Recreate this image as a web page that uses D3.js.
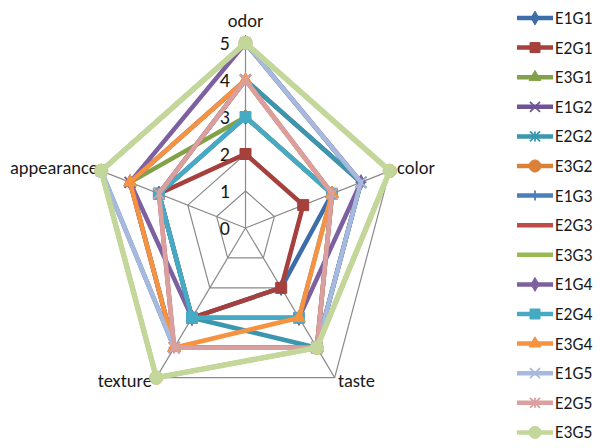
<!DOCTYPE html>
<html><head><meta charset="utf-8">
<script src="https://cdn.jsdelivr.net/npm/d3@7"></script>
<style>
html,body{margin:0;padding:0;background:#fff;}
svg text{font-family:Carlito,"Liberation Sans Narrow","DejaVu Sans Condensed",sans-serif;fill:#1a1a1a;}
</style></head>
<body><svg id="chart" width="601" height="448"></svg>
<script>
const axes = ["odor", "color", "taste", "texture", "appearance"];
const tickLabels = ["0", "1", "2", "3", "4", "5"];
const seriesNames = ["E1G1","E2G1","E3G1","E1G2","E2G2","E3G2","E1G3","E2G3","E3G3","E1G4","E2G4","E3G4","E1G5","E2G5","E3G5"];
const E1G1 = [3, 3, 2, 3, 3];
const E2G1 = [2, 2, 2, 3, 3];
const E3G1 = [3, 3, 4, 4, 4];
const E1G2 = [4, 4, 4, 4, 4];
const E2G2 = [4, 4, 4, 3, 3];
const E3G2 = [5, 5, 4, 5, 5];
const E1G3 = [5, 4, 4, 4, 5];
const E2G3 = [4, 3, 4, 4, 3];
const E3G3 = [5, 5, 4, 5, 5];
const E1G4 = [5, 4, 3, 3, 4];
const E2G4 = [3, 3, 3, 3, 3];
const E3G4 = [4, 3, 3, 4, 4];
const E1G5 = [5, 4, 4, 4, 5];
const E2G5 = [4, 3, 4, 4, 3];
const E3G5 = [5, 5, 4, 5, 5];
const seriesValues = [E1G1,E2G1,E3G1,E1G2,E2G2,E3G2,E1G3,E2G3,E3G3,E1G4,E2G4,E3G4,E1G5,E2G5,E3G5];
const colors = ["#3E6EAA","#A5403D","#82A24A","#6E5494","#3A97AE","#DA8137","#4A7EBB","#BE4B48","#98B954","#7D60A0","#46AAC5","#F69240","#A7B9DC","#D9A09F","#C4D79B"];
const markers = ["diamond","square","triangle","x","star","circle","plus","none","none","diamond","square","triangle","x","star","circle"];

const svg = d3.select("#chart");
const cx = 245.5, cy = 228, sx = 0.82;
const r = d3.scaleLinear().domain([0, 5]).range([0, 185]);
const ang = i => (-90 + 72 * i) * Math.PI / 180;
const pt = (i, v) => [cx + r(v) * Math.cos(ang(i)) * sx, cy + r(v) * Math.sin(ang(i))];

// grid
const grid = svg.append("g").attr("stroke", "#8a8a8a").attr("stroke-width", 1.2).attr("fill", "none");
d3.range(1, 6).forEach(lv => {
  grid.append("path").attr("d", d3.line()(axes.map((a, i) => pt(i, lv))) + "Z");
});
axes.forEach((a, i) => {
  const p = pt(i, 5);
  grid.append("line").attr("x1", cx).attr("y1", cy).attr("x2", p[0]).attr("y2", p[1]);
});

// tick labels
tickLabels.forEach((t, k) => {
  svg.append("text").attr("x", 230).attr("y", cy - r(k) + 7).attr("text-anchor", "end")
    .attr("font-size", 20).text(t);
});

// axis labels
const labelPos = [
  {x: 245.5, y: 27, anchor: "middle"},
  {x: 397, y: 174, anchor: "start"},
  {x: 338, y: 387, anchor: "start"},
  {x: 152, y: 387, anchor: "end"},
  {x: 98, y: 174, anchor: "end"}
];
axes.forEach((a, i) => {
  svg.append("text").attr("x", labelPos[i].x).attr("y", labelPos[i].y)
    .attr("text-anchor", labelPos[i].anchor).attr("font-size", 18.5).text(a);
});

function drawMarker(g, type, x, y, color, s) {
  const sym = {diamond: d3.symbolDiamond, square: d3.symbolSquare, triangle: d3.symbolTriangle, circle: d3.symbolCircle};
  if (sym[type]) {
    const size = {diamond: s * s * 0.55, square: s * s, triangle: s * s * 0.6, circle: s * s * 0.95}[type];
    g.append("path").attr("d", d3.symbol(sym[type], size)()).attr("transform", `translate(${x},${y})`)
      .attr("fill", color).attr("stroke", color).attr("stroke-width", 1);
  } else if (type !== "none") {
    const h = s / 2;
    const segs = [];
    if (type === "x" || type === "star") { segs.push([-h, -h, h, h], [-h, h, h, -h]); }
    if (type === "star") { segs.push([0, -h, 0, h]); }
    if (type === "plus") { segs.push([-h, 0, h, 0], [0, -h, 0, h]); }
    segs.forEach(sg => g.append("line").attr("x1", x + sg[0]).attr("y1", y + sg[1]).attr("x2", x + sg[2]).attr("y2", y + sg[3])
      .attr("stroke", color).attr("stroke-width", 1.8));
  }
}

// series
seriesValues.forEach((vals, si) => {
  const g = svg.append("g");
  const w = si === 14 ? 5.5 : 4.5;
  g.append("path").attr("d", d3.line()(vals.map((v, i) => pt(i, v))) + "Z")
    .attr("fill", "none").attr("stroke", colors[si]).attr("stroke-width", w).attr("stroke-linejoin", "miter");
  vals.forEach((v, i) => {
    const p = pt(i, v);
    drawMarker(g, markers[si], p[0], p[1], colors[si], markers[si] === "circle" ? 12 : 11);
  });
});

// legend
const leg = svg.append("g");
seriesNames.forEach((n, si) => {
  const y = 18 + si * 29.6;
  leg.append("line").attr("x1", 517).attr("x2", 553).attr("y1", y).attr("y2", y)
    .attr("stroke", colors[si]).attr("stroke-width", 4.5);
  drawMarker(leg, markers[si], 535, y, colors[si], markers[si] === "circle" ? 11 : 10);
  leg.append("text").attr("x", 555).attr("y", y + 6).attr("font-size", 17.5).text(n);
});
</script></body></html>
